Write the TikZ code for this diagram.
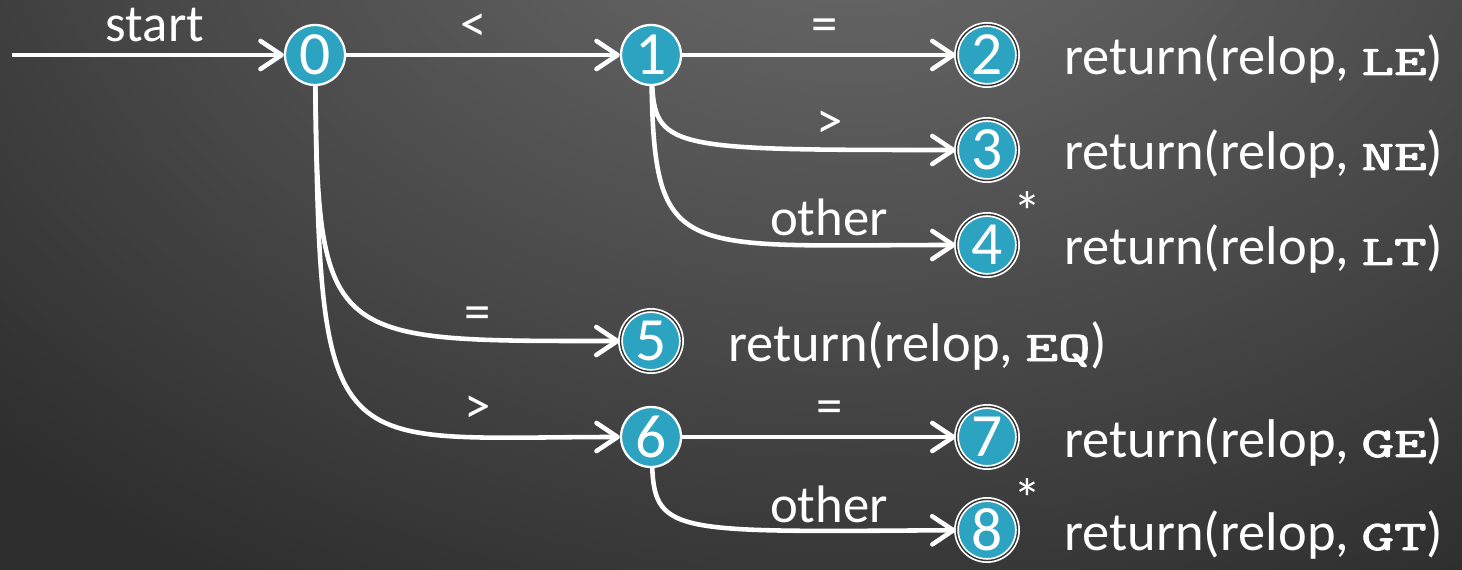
\documentclass[tikz,border=0pt]{standalone}
\usepackage{fontspec}
\usepackage{graphicx}
\setmainfont{Carlito}
\newfontfamily\tokfont{Latin Modern Mono}[FakeBold=2]
\usetikzlibrary{arrows.meta}

\definecolor{stateblue}{HTML}{2CA3C0}
\definecolor{ringdark}{HTML}{333333}
\definecolor{bginner}{HTML}{6E6E6E}
\definecolor{bgouter}{HTML}{2E2E2E}

% token names are set in a wide bold typewriter face
\newcommand{\tok}[1]{{\tokfont\fontsize{24}{24}\selectfont\scalebox{1.5}[1]{#1}}}

\tikzset{
  statenode/.style={circle, fill=stateblue, draw=white, line width=1.3pt,
    minimum size=1.2cm, inner sep=0pt, text=white,
    font=\fontsize{35}{35}\selectfont},
  finalnode/.style={statenode, double=ringdark, line width=1pt,
    double distance=0.8pt, minimum size=1.22cm},
  trans/.style={draw=white, line width=2.6pt,
    -{Straight Barb[length=12pt,width=16pt,round]}},
  lbl/.style={text=white, inner sep=0pt, font=\fontsize{30}{30}\selectfont},
  action/.style={text=white, inner sep=0pt, anchor=base west,
    font=\fontsize{31}{31}\selectfont},
  starmark/.style={text=white, inner sep=0pt, font=\fontsize{32}{32}\selectfont}
}

\begin{document}
\begin{tikzpicture}[x=0.02cm, y=-0.02cm]
  % background
  \useasboundingbox (0,0) rectangle (1462,570);
  \begin{scope}
    \clip (0,0) rectangle (1462,570);
    \fill[bgouter] (0,0) rectangle (1462,570);
    \shade[inner color=bginner, outer color=bgouter] (850,-150) ellipse (1200 and 850);
  \end{scope}

  % states
  \node[statenode] (n0) at (315,55) {0};
  \node[statenode] (n1) at (651,55) {1};
  \node[finalnode] (n2) at (987,55) {2};
  \node[finalnode] (n3) at (987,150) {3};
  \node[finalnode] (n4) at (987,245) {4};
  \node[finalnode] (n5) at (651,341) {5};
  \node[statenode] (n6) at (651,437) {6};
  \node[finalnode] (n7) at (987,437) {7};
  \node[finalnode] (n8) at (987,530) {8};

  % entry arrow
  \coordinate (entry) at (12,55);
  \draw[trans] (entry) -- (n0);

  % transitions
  \draw[trans] (n0) -- (n1);
  \draw[trans] (n1) -- (n2);
  \draw[trans] (n1) .. controls (655,150) and (680,150) .. (n3);
  \draw[trans] (n1) .. controls (655,262) and (680,245) .. (n4);
  \draw[trans] (n0) .. controls (318,345) and (330,341) .. (n5);
  \draw[trans] (n0) .. controls (320,470) and (330,437) .. (n6);
  \draw[trans] (n6) -- (n7);
  \draw[trans] (n6) .. controls (655,535) and (680,532) .. (n8);

  % transition labels
  \node[lbl] (lstart) at (155,25) {start};
  \node[lbl] (l01) at (474,28) {<};
  \node[lbl] (l12) at (825,30) {=};
  \node[lbl] (l13) at (830,125) {>};
  \node[lbl] (l14) at (829,217) {other};
  \node[lbl] (l05) at (478,318) {=};
  \node[lbl] (l06) at (478,410) {>};
  \node[lbl] (l67) at (830,412) {=};
  \node[lbl] (l68) at (829,504) {other};

  % retract markers
  \node[starmark] (s4) at (1027,212) {*};
  \node[starmark] (s8) at (1027,499) {*};

  % actions
  \node[action] (a2) at (1064,75)  {return(relop, \tok{LE})};
  \node[action] (a3) at (1064,170) {return(relop, \tok{NE})};
  \node[action] (a4) at (1064,265) {return(relop, \tok{LT})};
  \node[action] (a5) at (728,361)  {return(relop, \tok{EQ})};
  \node[action] (a7) at (1064,457) {return(relop, \tok{GE})};
  \node[action] (a8) at (1064,550) {return(relop, \tok{GT})};
\end{tikzpicture}
\end{document}
